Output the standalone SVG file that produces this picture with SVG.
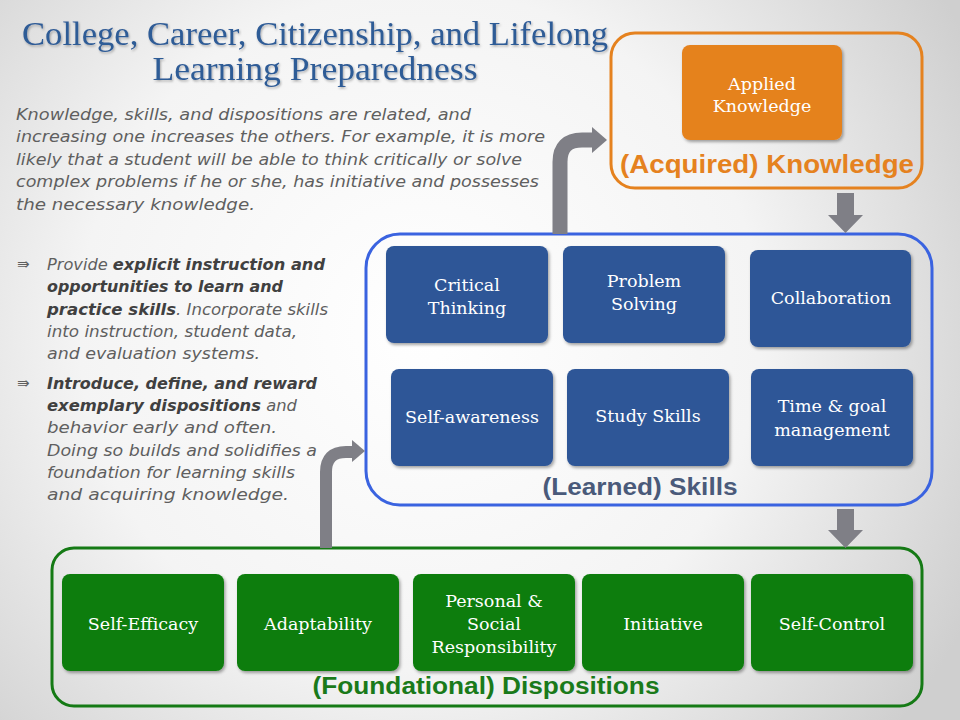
<svg xmlns="http://www.w3.org/2000/svg" width="960" height="720" viewBox="0 0 960 720">
<defs>
<radialGradient id="bg" cx="420" cy="330" r="620" gradientUnits="userSpaceOnUse">
<stop offset="0" stop-color="#ffffff"/>
<stop offset="0.55" stop-color="#f4f4f4"/>
<stop offset="1" stop-color="#cfcfcf"/>
</radialGradient>
<filter id="sh" x="-10%" y="-10%" width="130%" height="130%">
<feDropShadow dx="1.5" dy="2" stdDeviation="1.5" flood-color="#000" flood-opacity="0.35"/>
</filter>
<filter id="tsh" x="-5%" y="-20%" width="110%" height="150%">
<feDropShadow dx="1" dy="1.5" stdDeviation="1" flood-color="#000" flood-opacity="0.3"/>
</filter>
</defs>
<style>
.title{font-family:"Liberation Serif","DejaVu Serif",serif;font-size:33px;fill:#2F5B96;text-anchor:middle}
.para{font-family:"DejaVu Sans","Liberation Sans",sans-serif;font-style:italic;font-size:16px;fill:#5f5f5f}
.b{font-weight:bold;fill:#404040}
.bul{font-family:"DejaVu Sans",sans-serif;font-size:15px;fill:#5f5f5f}
.nt{font-family:"DejaVu Serif","Liberation Serif",serif;font-size:17.5px;fill:#ffffff;text-anchor:middle}
.blue{fill:#2E5697;filter:url(#sh)}
.green{fill:#0B7D0B;filter:url(#sh)}
.orange{fill:#E5821F;filter:url(#sh)}
.lab{font-family:"Liberation Sans","DejaVu Sans",sans-serif;font-weight:bold;text-anchor:middle}
.arr{fill:#7F7F86}
.arrl{fill:none;stroke:#7F7F86}
</style>
<rect x="0" y="0" width="960" height="720" fill="url(#bg)"/>

<g id="title" filter="url(#tsh)">
<text class="title" x="315" y="45" textLength="586" lengthAdjust="spacingAndGlyphs">College, Career, Citizenship, and Lifelong</text>
<text class="title" x="315" y="80" textLength="325" lengthAdjust="spacingAndGlyphs">Learning Preparedness</text>
</g>

<g id="intro">
<text class="para" x="16" y="120" textLength="455" lengthAdjust="spacingAndGlyphs">Knowledge, skills, and dispositions are related, and</text>
<text class="para" x="16" y="142" textLength="529" lengthAdjust="spacingAndGlyphs">increasing one increases the others. For example, it is more</text>
<text class="para" x="16" y="165" textLength="506" lengthAdjust="spacingAndGlyphs">likely that a student will be able to think critically or solve</text>
<text class="para" x="16" y="187" textLength="523" lengthAdjust="spacingAndGlyphs">complex problems if he or she, has initiative and possesses</text>
<text class="para" x="16" y="210" textLength="239" lengthAdjust="spacingAndGlyphs">the necessary knowledge.</text>
</g>

<g id="bullets">
<text class="bul" x="17" y="269">⇛</text>
<text class="para" x="47" y="270" textLength="278" lengthAdjust="spacingAndGlyphs">Provide <tspan class="b">explicit instruction and</tspan></text>
<text class="para" x="47" y="292" textLength="236" lengthAdjust="spacingAndGlyphs"><tspan class="b">opportunities to learn and</tspan></text>
<text class="para" x="47" y="315" textLength="281" lengthAdjust="spacingAndGlyphs"><tspan class="b">practice skills</tspan>. Incorporate skills</text>
<text class="para" x="47" y="337" textLength="250" lengthAdjust="spacingAndGlyphs">into instruction, student data,</text>
<text class="para" x="47" y="359" textLength="213" lengthAdjust="spacingAndGlyphs">and evaluation systems.</text>
<text class="bul" x="17" y="388">⇛</text>
<text class="para" x="47" y="389" textLength="270" lengthAdjust="spacingAndGlyphs"><tspan class="b">Introduce, define, and reward</tspan></text>
<text class="para" x="47" y="411" textLength="250" lengthAdjust="spacingAndGlyphs"><tspan class="b">exemplary dispositions</tspan> and</text>
<text class="para" x="47" y="433" textLength="230" lengthAdjust="spacingAndGlyphs">behavior early and often.</text>
<text class="para" x="47" y="456" textLength="270" lengthAdjust="spacingAndGlyphs">Doing so builds and solidifies a</text>
<text class="para" x="47" y="478" textLength="248" lengthAdjust="spacingAndGlyphs">foundation for learning skills</text>
<text class="para" x="47" y="500" textLength="242" lengthAdjust="spacingAndGlyphs">and acquiring knowledge.</text>
</g>

<g id="knowledge">
<rect x="611" y="33" width="311" height="155" rx="24" fill="none" stroke="#E5821F" stroke-width="3"/>
<text class="lab" x="767" y="173" font-size="25" fill="#E5821F" textLength="294" lengthAdjust="spacingAndGlyphs">(Acquired) Knowledge</text>
</g>
<g id="applied-knowledge">
<rect class="orange" x="682" y="45" width="160" height="95" rx="8"/>
<text class="nt" x="762" y="90">Applied</text>
<text class="nt" x="762" y="112">Knowledge</text>
</g>

<g id="skills">
<rect x="366" y="234" width="566" height="271" rx="34" fill="none" stroke="#3A63E0" stroke-width="3"/>
<text class="lab" x="640" y="495" font-size="23" fill="#4A5A7A" textLength="195" lengthAdjust="spacingAndGlyphs">(Learned) Skills</text>
</g>
<g id="critical-thinking">
<rect class="blue" x="386" y="246" width="162" height="97" rx="8"/>
<text class="nt" x="467" y="291">Critical</text>
<text class="nt" x="467" y="314">Thinking</text>
</g>
<g id="problem-solving">
<rect class="blue" x="563" y="246" width="162" height="97" rx="8"/>
<text class="nt" x="644" y="287">Problem</text>
<text class="nt" x="644" y="310">Solving</text>
</g>
<g id="collaboration">
<rect class="blue" x="750" y="250" width="161" height="97" rx="8"/>
<text class="nt" x="831" y="304">Collaboration</text>
</g>
<g id="self-awareness">
<rect class="blue" x="391" y="369" width="162" height="97" rx="8"/>
<text class="nt" x="472" y="423">Self-awareness</text>
</g>
<g id="study-skills">
<rect class="blue" x="567" y="369" width="162" height="97" rx="8"/>
<text class="nt" x="648" y="422">Study Skills</text>
</g>
<g id="time-goal">
<rect class="blue" x="751" y="369" width="162" height="97" rx="8"/>
<text class="nt" x="832" y="412">Time &amp; goal</text>
<text class="nt" x="832" y="436">management</text>
</g>

<g id="dispositions">
<rect x="52" y="548" width="870" height="158" rx="22" fill="none" stroke="#157A15" stroke-width="3"/>
<text class="lab" x="486" y="694" font-size="23" fill="#1A7A1A" textLength="347" lengthAdjust="spacingAndGlyphs">(Foundational) Dispositions</text>
</g>
<g id="self-efficacy">
<rect class="green" x="62" y="574" width="162" height="97" rx="8"/>
<text class="nt" x="143" y="630">Self-Efficacy</text>
</g>
<g id="adaptability">
<rect class="green" x="237" y="574" width="162" height="97" rx="8"/>
<text class="nt" x="318" y="630">Adaptability</text>
</g>
<g id="responsibility">
<rect class="green" x="413" y="574" width="162" height="97" rx="8"/>
<text class="nt" x="494" y="607">Personal &amp;</text>
<text class="nt" x="494" y="630">Social</text>
<text class="nt" x="494" y="653">Responsibility</text>
</g>
<g id="initiative">
<rect class="green" x="582" y="574" width="162" height="97" rx="8"/>
<text class="nt" x="663" y="630">Initiative</text>
</g>
<g id="self-control">
<rect class="green" x="751" y="574" width="162" height="97" rx="8"/>
<text class="nt" x="832" y="630">Self-Control</text>
</g>

<g id="connectors">
<path class="arrl" stroke-width="15" d="M560 234 V162 Q560 140 582 140 H594"/>
<polygon class="arr" points="592,127 607,140 592,153"/>
<path class="arrl" stroke-width="12" d="M326 548 V472 Q326 452 346 452 H354"/>
<polygon class="arr" points="352,440 365,451 352,462"/>
<polygon class="arr" points="837,193 854,193 854,215 863,215 845.5,233 828,215 837,215"/>
<polygon class="arr" points="837,509 854,509 854,530 863,530 845.5,548 828,530 837,530"/>
</g>
</svg>
